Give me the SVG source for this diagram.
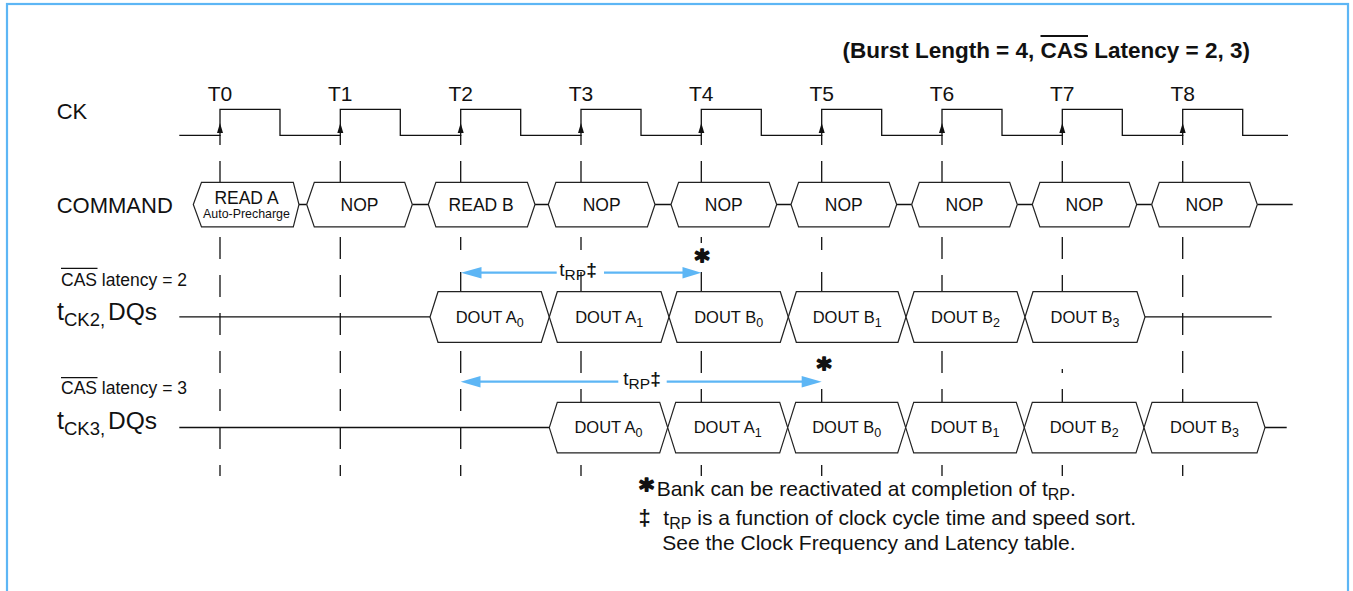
<svg xmlns="http://www.w3.org/2000/svg" width="1353" height="591" viewBox="0 0 1353 591">
<style>
text{font-family:"Liberation Sans",Arial,sans-serif;fill:#111}
.box{fill:#fff;stroke:#222;stroke-width:1.2}
.ln{fill:none;stroke:#111;stroke-width:1.3}
.dash{fill:none;stroke:#111;stroke-width:1.3}
.cmd{font-size:17.5px;text-anchor:middle}
.dq{font-size:16.5px;text-anchor:middle}
.lbl{font-size:22px}
.sub{font-size:12.5px}
.blue{stroke:#5db6f5;stroke-width:2.2;fill:none}
.ah{fill:#5db6f5}
.star{font-family:"DejaVu Sans",sans-serif;font-size:28px;font-weight:bold;text-anchor:middle;stroke:#111;stroke-width:1.6;stroke-linejoin:round}
.dd{font-weight:bold}
</style>
<defs>
<polygon id="ckarrow" points="0,-12 -3,-2 3,-2" fill="#111"/>
</defs>
<rect x="7" y="4" width="1341" height="610" fill="none" stroke="#5db6f5" stroke-width="2.2"/>

<g id="title">
<text x="842.4" y="58" font-size="22.5px" font-weight="bold">(Burst Length = 4, CAS Latency = 2, 3)</text>
<line x1="1040.5" y1="36" x2="1088" y2="36" stroke="#111" stroke-width="2"/>
</g>

<g id="labels">
<text class="lbl" x="56.7" y="119.3">CK</text>
<text class="lbl" x="56.7" y="213.3">COMMAND</text>
<text x="61" y="286" font-size="17.5px">CAS latency = 2</text>
<line x1="61" y1="268.3" x2="97.5" y2="268.3" stroke="#111" stroke-width="1.2"/>
<text x="61" y="394" font-size="17.5px">CAS latency = 3</text>
<line x1="61" y1="377.7" x2="97.5" y2="377.7" stroke="#111" stroke-width="1.2"/>
<text x="57" y="320"><tspan font-size="25px">t</tspan><tspan font-size="18.5px" dy="6">CK2,</tspan><tspan font-size="24.5px" x="108" dy="-6">DQs</tspan></text>
<text x="57" y="429"><tspan font-size="25px">t</tspan><tspan font-size="18.5px" dy="6">CK3,</tspan><tspan font-size="24.5px" x="108" dy="-6">DQs</tspan></text>
</g>

<g id="clock-labels" font-size="21px" text-anchor="middle">
<text x="220" y="101">T0</text>
<text x="340.3" y="101">T1</text>
<text x="460.7" y="101">T2</text>
<text x="581" y="101">T3</text>
<text x="701.3" y="101">T4</text>
<text x="821.7" y="101">T5</text>
<text x="942" y="101">T6</text>
<text x="1062.3" y="101">T7</text>
<text x="1182.7" y="101">T8</text>
</g>

<g id="clock">
<path class="ln" d="M179.3,135.3 H220 V109.3 H280 V135.3 H340.3 V109.3 H400.3 V135.3 H460.7 V109.3 H520.7 V135.3 H581 V109.3 H641 V135.3 H701.3 V109.3 H761.3 V135.3 H821.7 V109.3 H881.7 V135.3 H942 V109.3 H1002 V135.3 H1062.3 V109.3 H1122.3 V135.3 H1182.7 V109.3 H1242.7 V135.3 H1288"/>
<path class="ln" d="M220,135 V145 M340.3,135 V145 M460.7,135 V145 M581,135 V145 M701.3,135 V145 M821.7,135 V145 M942,135 V145 M1062.3,135 V145 M1182.7,135 V145"/>
<use href="#ckarrow" x="220" y="135"/>
<use href="#ckarrow" x="340.3" y="135"/>
<use href="#ckarrow" x="460.7" y="135"/>
<use href="#ckarrow" x="581" y="135"/>
<use href="#ckarrow" x="701.3" y="135"/>
<use href="#ckarrow" x="821.7" y="135"/>
<use href="#ckarrow" x="942" y="135"/>
<use href="#ckarrow" x="1062.3" y="135"/>
<use href="#ckarrow" x="1182.7" y="135"/>
</g>

<g id="gridlines">
<path class="dash" d="M220,161 V183 M220,237 V259 M220,275 V297 M220,313 V335 M220,351 V373 M220,389 V411 M220,427 V449 M220,465 V476"/>
<path class="dash" d="M340.3,161 V183 M340.3,237 V259 M340.3,275 V297 M340.3,313 V335 M340.3,351 V373 M340.3,389 V411 M340.3,427 V449 M340.3,465 V476"/>
<path class="dash" d="M460.7,161 V183 M460.7,237 V250 M460.7,272 V292 M460.7,351 V373 M460.7,389 V411 M460.7,427 V449 M460.7,465 V476"/>
<path class="dash" d="M581,161 V183 M581,237 V250 M581,272 V292 M581,351 V373 M581,389 V402 M581,465 V476"/>
<path class="dash" d="M701.3,161 V183 M701.3,237 V243 M701.3,272 V292 M701.3,351 V373 M701.3,389 V402 M701.3,465 V476"/>
<path class="dash" d="M821.7,161 V183 M821.7,237 V250 M821.7,272 V292 M821.7,389 V402 M821.7,465 V476"/>
<path class="dash" d="M942,161 V183 M942,237 V259 M942,275 V292 M942,351 V373 M942,389 V402 M942,465 V476"/>
<path class="dash" d="M1062.3,161 V183 M1062.3,237 V259 M1062.3,275 V292 M1062.3,369 V373 M1062.3,389 V402 M1062.3,465 V476"/>
<path class="dash" d="M1182.7,161 V183 M1182.7,237 V259 M1182.7,275 V297 M1182.7,313 V335 M1182.7,351 V373 M1182.7,389 V402 M1182.7,465 V476"/>
</g>

<g id="connectors">
<path class="ln" d="M299,204.5 H306.7 M412.3,204.5 H428.3 M535,204.5 H548.3 M655,204.5 H671 M776.7,204.5 H791 M896.7,204.5 H911.7 M1017.3,204.5 H1032.3 M1136.7,204.5 H1151.7 M1257.3,204.5 H1292.7"/>
<path class="ln" d="M179.3,316.9 H430 M1145,316.9 H1271.7"/>
<path class="ln" d="M179.3,427.5 H549.3 M1265,427.5 H1286.7"/>
</g>

<g id="cmd-read-a"><polygon class="box" points="193.3,204.5 201.5,182.3 293.3,182.3 299,204.5 293.3,226.9 201.5,226.9"/><text class="cmd" x="246.5" y="203.5" font-size="17.4px">READ A</text><text x="246.5" y="218.3" font-size="12.4px" text-anchor="middle">Auto-Precharge</text></g>
<g id="cmd-nop-t1"><polygon class="box" points="306.7,204.5 314.3,182.3 404.7,182.3 412.3,204.5 404.7,226.9 314.3,226.9"/><text class="cmd" x="359.5" y="210.7">NOP</text></g>
<g id="cmd-read-b"><polygon class="box" points="428.3,204.5 435.9,182.3 527.4,182.3 535,204.5 527.4,226.9 435.9,226.9"/><text class="cmd" x="481.2" y="210.7">READ B</text></g>
<g id="cmd-nop-t3"><polygon class="box" points="548.3,204.5 555.9,182.3 647.4,182.3 655,204.5 647.4,226.9 555.9,226.9"/><text class="cmd" x="601.7" y="210.7">NOP</text></g>
<g id="cmd-nop-t4"><polygon class="box" points="671,204.5 678.6,182.3 769.1,182.3 776.7,204.5 769.1,226.9 678.6,226.9"/><text class="cmd" x="723.8" y="210.7">NOP</text></g>
<g id="cmd-nop-t5"><polygon class="box" points="791,204.5 798.6,182.3 889.1,182.3 896.7,204.5 889.1,226.9 798.6,226.9"/><text class="cmd" x="843.8" y="210.7">NOP</text></g>
<g id="cmd-nop-t6"><polygon class="box" points="911.7,204.5 919.3,182.3 1009.7,182.3 1017.3,204.5 1009.7,226.9 919.3,226.9"/><text class="cmd" x="964.5" y="210.7">NOP</text></g>
<g id="cmd-nop-t7"><polygon class="box" points="1032.3,204.5 1039.9,182.3 1129.1,182.3 1136.7,204.5 1129.1,226.9 1039.9,226.9"/><text class="cmd" x="1084.5" y="210.7">NOP</text></g>
<g id="cmd-nop-t8"><polygon class="box" points="1151.7,204.5 1159.3,182.3 1249.7,182.3 1257.3,204.5 1249.7,226.9 1159.3,226.9"/><text class="cmd" x="1204.5" y="210.7">NOP</text></g>

<g id="cl2-a0"><polygon class="box" points="430,317 438,291.7 541.3,291.7 549.3,317 541.3,342.3 438,342.3"/><text class="dq" x="489.7" y="322.5">DOUT A<tspan class="sub" dy="4.3">0</tspan></text></g>
<g id="cl2-a1"><polygon class="box" points="549.3,317 557.3,291.7 661,291.7 669,317 661,342.3 557.3,342.3"/><text class="dq" x="609.2" y="322.5">DOUT A<tspan class="sub" dy="4.3">1</tspan></text></g>
<g id="cl2-b0"><polygon class="box" points="669,317 677,291.7 780.3,291.7 788.3,317 780.3,342.3 677,342.3"/><text class="dq" x="728.7" y="322.5">DOUT B<tspan class="sub" dy="4.3">0</tspan></text></g>
<g id="cl2-b1"><polygon class="box" points="788.3,317 796.3,291.7 898,291.7 906,317 898,342.3 796.3,342.3"/><text class="dq" x="847.2" y="322.5">DOUT B<tspan class="sub" dy="4.3">1</tspan></text></g>
<g id="cl2-b2"><polygon class="box" points="906,317 914,291.7 1017,291.7 1025,317 1017,342.3 914,342.3"/><text class="dq" x="965.5" y="322.5">DOUT B<tspan class="sub" dy="4.3">2</tspan></text></g>
<g id="cl2-b3"><polygon class="box" points="1025,317 1033,291.7 1137,291.7 1145,317 1137,342.3 1033,342.3"/><text class="dq" x="1085" y="322.5">DOUT B<tspan class="sub" dy="4.3">3</tspan></text></g>

<g id="cl3-a0"><polygon class="box" points="549.3,427.6 557.3,402.3 659.7,402.3 667.7,427.6 659.7,452.9 557.3,452.9"/><text class="dq" x="608.5" y="433">DOUT A<tspan class="sub" dy="4.3">0</tspan></text></g>
<g id="cl3-a1"><polygon class="box" points="667.7,427.6 675.7,402.3 779.7,402.3 787.7,427.6 779.7,452.9 675.7,452.9"/><text class="dq" x="727.7" y="433">DOUT A<tspan class="sub" dy="4.3">1</tspan></text></g>
<g id="cl3-b0"><polygon class="box" points="787.7,427.6 795.7,402.3 897.7,402.3 905.7,427.6 897.7,452.9 795.7,452.9"/><text class="dq" x="846.7" y="433">DOUT B<tspan class="sub" dy="4.3">0</tspan></text></g>
<g id="cl3-b1"><polygon class="box" points="905.7,427.6 913.7,402.3 1016.3,402.3 1024.3,427.6 1016.3,452.9 913.7,452.9"/><text class="dq" x="965" y="433">DOUT B<tspan class="sub" dy="4.3">1</tspan></text></g>
<g id="cl3-b2"><polygon class="box" points="1024.3,427.6 1032.3,402.3 1136,402.3 1144,427.6 1136,452.9 1032.3,452.9"/><text class="dq" x="1084.2" y="433">DOUT B<tspan class="sub" dy="4.3">2</tspan></text></g>
<g id="cl3-b3"><polygon class="box" points="1144,427.6 1152,402.3 1257,402.3 1265,427.6 1257,452.9 1152,452.9"/><text class="dq" x="1204.5" y="433">DOUT B<tspan class="sub" dy="4.3">3</tspan></text></g>

<g id="trp-cl2">
<path class="blue" d="M478,272.7 H556.7 M604,272.7 H684"/>
<polygon class="ah" points="461,272.7 481.5,267 481.5,278.4"/>
<polygon class="ah" points="701.3,272.7 682.5,267 682.5,278.4"/>
<text x="559.3" y="275.5" font-size="19px">t<tspan font-size="15.5px" dy="4">RP</tspan><tspan class="dd" dy="-4">‡</tspan></text>
<text class="star" x="702" y="270">*</text>
</g>
<g id="trp-cl3">
<path class="blue" d="M478,381.7 H618.3 M666.7,381.7 H803.5"/>
<polygon class="ah" points="460.7,381.7 480.5,376 480.5,387.4"/>
<polygon class="ah" points="821.7,381.7 801.7,376 801.7,387.4"/>
<text x="623.3" y="384.5" font-size="19px">t<tspan font-size="15.5px" dy="4">RP</tspan><tspan class="dd" dy="-4">‡</tspan></text>
<text class="star" x="824" y="378">*</text>
</g>

<g id="footnotes" font-size="21px">
<text class="star" x="646.5" y="499">*</text>
<text x="656.7" y="496">Bank can be reactivated at completion of t<tspan font-size="16px" dy="4">RP</tspan><tspan dy="-4">.</tspan></text>
<text x="638.5" y="525" class="dd" font-size="22px">‡</text>
<text x="663.3" y="525">t<tspan font-size="16px" dy="4">RP</tspan><tspan dy="-4"> is a function of clock cycle time and speed sort.</tspan></text>
<text x="662.3" y="550">See the Clock Frequency and Latency table.</text>
</g>
</svg>
